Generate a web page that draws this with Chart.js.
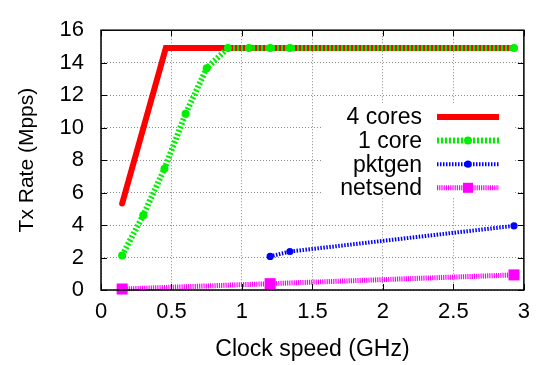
<!DOCTYPE html>
<html>
<head>
<meta charset="utf-8">
<script src="https://cdn.jsdelivr.net/npm/chart.js@4.4.1/dist/chart.umd.min.js"></script>
<style>
  html, body { margin: 0; padding: 0; background: #fff; }
</style>
</head>
<body>
<canvas id="grafico" width="539" height="365"></canvas>
<script>
// values (GHz, Mpps)
const seriesNames = ["4 cores", "1 core", "pktgen", "netsend"];

const clock4cores = [0.15, 0.46, 0.9, 1.34, 2.93];
const rate4cores = [5.33, 14.9, 14.9, 14.9, 14.9];

const clock1core = [0.15, 0.3, 0.45, 0.6, 0.75, 0.9, 1.05, 1.2, 1.34, 2.93];
const rate1core = [2.13, 4.61, 7.46, 10.85, 13.66, 14.9, 14.9, 14.9, 14.9, 14.9];

const clockPktgen = [1.2, 1.34, 2.93];
const ratePktgen = [2.07, 2.37, 3.95];

const clockNetsend = [0.15, 1.2, 2.93];
const rateNetsend = [0.06, 0.39, 0.93];

const xTicks = [0, 0.5, 1, 1.5, 2, 2.5, 3];
const yTicks = [0, 2, 4, 6, 8, 10, 12, 14, 16];

const fonte = "'Liberation Sans', Arial, Helvetica, sans-serif";

function pontos(xs, ys) {
    return xs.map((x, i) => ({ x: x, y: ys[i] }));
}

// gnuplot-ish border with inward ticks on all four sides
const bordaPlugin = {
    id: "borda",
    afterDraw(chart) {
        const { ctx, chartArea: a, scales } = chart;
        ctx.save();
        ctx.strokeStyle = "#000";
        ctx.lineWidth = 1.5;
        ctx.strokeRect(a.left, a.top, a.right - a.left, a.bottom - a.top);
        ctx.lineWidth = 1;
        const t = 6;
        ctx.beginPath();
        xTicks.forEach(v => {
            const px = Math.round(scales.x.getPixelForValue(v)) + 0.5;
            ctx.moveTo(px, a.bottom); ctx.lineTo(px, a.bottom - t);
            ctx.moveTo(px, a.top); ctx.lineTo(px, a.top + t);
        });
        yTicks.forEach(v => {
            const py = Math.round(scales.y.getPixelForValue(v)) + 0.5;
            ctx.moveTo(a.left, py); ctx.lineTo(a.left + t, py);
            ctx.moveTo(a.right, py); ctx.lineTo(a.right - t, py);
        });
        ctx.stroke();
        ctx.restore();
    }
};

// key drawn like gnuplot: text right-aligned, sample on the right
const legendaPlugin = {
    id: "legendaGnuplot",
    afterDatasetsDraw(chart) {
        const ctx = chart.ctx;
        ctx.save();
        ctx.fillStyle = "#fff";
        ctx.fillRect(323, 103, 190, 95);
        chart.data.datasets.forEach((ds, linha) => {
            const y = 117 + linha * 23.6;
            ctx.fillStyle = "#000";
            ctx.font = "23px " + fonte;
            ctx.textAlign = "right";
            ctx.textBaseline = "middle";
            ctx.fillText(ds.label, 422, y + 1);

            ctx.strokeStyle = ds.borderColor;
            ctx.lineWidth = ds.borderWidth;
            ctx.setLineDash(ds.borderDash || []);
            ctx.lineCap = "butt";
            ctx.beginPath();
            ctx.moveTo(437, y);
            ctx.lineTo(499, y);
            ctx.stroke();
            ctx.setLineDash([]);

            if (ds.pointRadius > 0) {
                ctx.fillStyle = ds.pointBackgroundColor;
                if (ds.pointStyle === "rect") {
                    ctx.fillRect(463, y - 5, 10, 10);
                } else {
                    ctx.beginPath();
                    ctx.arc(468, y, ds.pointRadius, 0, Math.PI * 2);
                    ctx.fill();
                }
            }
        });
        ctx.restore();
    }
};

new Chart(document.getElementById("grafico"), {
    type: "line",
    data: {
        datasets: [
            {
                label: seriesNames[0],
                data: pontos(clock4cores, rate4cores),
                borderColor: "#ff0000",
                borderWidth: 6,
                borderCapStyle: "round",
                borderJoinStyle: "miter",
                pointRadius: 0,
                pointBackgroundColor: "#ff0000",
                order: 4
            },
            {
                label: seriesNames[1],
                data: pontos(clock1core, rate1core),
                borderColor: "#00f000",
                borderWidth: 6,
                borderDash: [2, 2],
                pointRadius: 4,
                pointBorderWidth: 0,
                pointBackgroundColor: "#00f000",
                order: 3
            },
            {
                label: seriesNames[2],
                data: pontos(clockPktgen, ratePktgen),
                borderColor: "#0000ff",
                borderWidth: 4,
                borderDash: [1.5, 1.5],
                pointRadius: 3.6,
                pointBorderWidth: 0,
                pointBackgroundColor: "#0000ff",
                order: 2
            },
            {
                label: seriesNames[3],
                data: pontos(clockNetsend, rateNetsend),
                borderColor: "#ff00ff",
                borderWidth: 5,
                borderDash: [1.2, 1],
                pointStyle: "rect",
                pointRadius: 7.8,
                pointBorderWidth: 0,
                pointBackgroundColor: "#ff00ff",
                order: 1
            }
        ]
    },
    options: {
        responsive: false,
        animation: false,
        clip: false,
        layout: { padding: { top: 15, right: 12, left: 0, bottom: 0 } },
        plugins: {
            legend: { display: false },
            tooltip: { enabled: false }
        },
        scales: {
            x: {
                type: "linear",
                min: 0,
                max: 3,
                afterBuildTicks: s => { s.ticks = xTicks.map(v => ({ value: v })); },
                afterFit: s => { s.height = 75; },
                ticks: {
                    color: "#000",
                    padding: 9,
                    maxRotation: 0,
                    font: { family: fonte, size: 22 },
                    callback: v => String(v)
                },
                grid: { color: "#8a8a8a", lineWidth: 1, drawTicks: false },
                border: { display: false, dash: [1, 2] },
                title: {
                    display: true,
                    text: "Clock speed (GHz)",
                    color: "#000",
                    font: { family: fonte, size: 23 },
                    padding: { top: 0, bottom: 2 }
                }
            },
            y: {
                min: 0,
                max: 16,
                afterBuildTicks: s => { s.ticks = yTicks.map(v => ({ value: v })); },
                afterFit: s => { s.width = 101; },
                ticks: {
                    color: "#000",
                    padding: 17,
                    font: { family: fonte, size: 22 },
                    callback: v => String(v)
                },
                grid: { color: "#8a8a8a", lineWidth: 1, drawTicks: false },
                border: { display: false, dash: [1, 2] },
                title: {
                    display: true,
                    text: "Tx Rate (Mpps)",
                    color: "#000",
                    font: { family: fonte, size: 21 },
                    padding: { top: 15, bottom: 0 }
                }
            }
        }
    },
    plugins: [legendaPlugin, bordaPlugin]
});
</script>
</body>
</html>
